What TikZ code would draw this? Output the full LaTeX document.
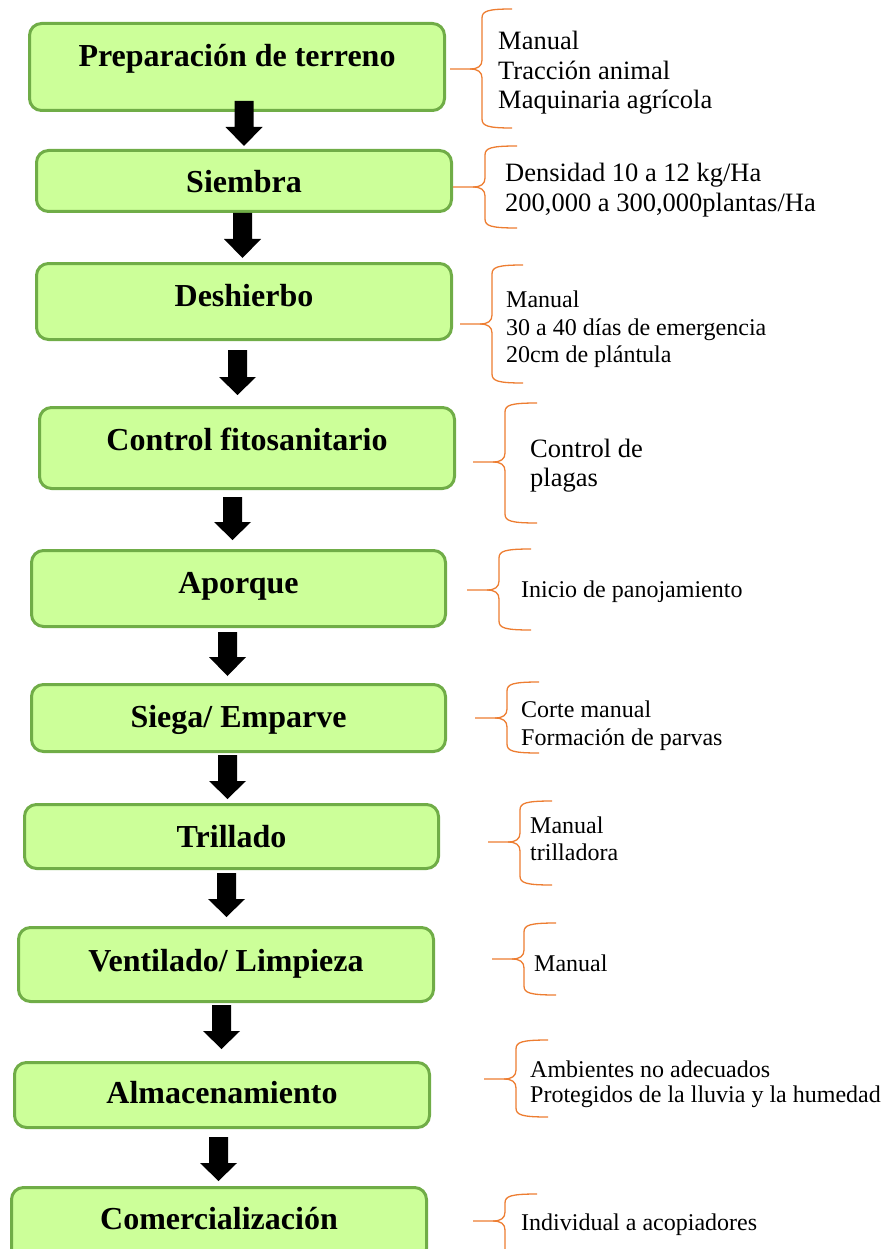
\documentclass[tikz,border=0pt]{standalone}
\usepackage{fontspec}
\setmainfont{Liberation Serif}
\definecolor{boxfill}{HTML}{CCFF99}
\definecolor{boxline}{HTML}{70AD47}
\definecolor{braceor}{HTML}{ED7D31}
\tikzset{
  stepbox/.style={draw=boxline, fill=boxfill, line width=3pt, rounded corners=12pt, inner sep=0pt},
  steptext/.style={anchor=base, inner sep=0pt, font=\fontsize{32}{38}\selectfont\bfseries},
  notebig/.style={anchor=base west, inner sep=0pt, font=\fontsize{26.5}{30}\selectfont},
  notesmall/.style={anchor=base west, inner sep=0pt, font=\fontsize{24}{28}\selectfont},
  bracestyle/.style={draw=braceor, line width=1.3pt},
  flowarrow/.style={fill=black},
}
% block arrow: name, center x, top y, head start y, tip y
\newcommand\flowarr[5]{%
  \fill[flowarrow] ({#2-9.5},#3) -- ({#2+9.5},#3) -- ({#2+9.5},#4) -- ({#2+18.5},#4)
    -- (#2,#5) -- ({#2-18.5},#4) -- ({#2-9.5},#4) -- cycle;
  \coordinate (#1) at (#2,#5);}
% side brace: tip x, tip y, vertical x, end x, top y, bottom y
\newcommand\sidebrace[6]{%
  \draw[bracestyle] (#1,#2) -- ({#3-12},#2) .. controls ({#3-4},#2) and (#3,{#2-3}) .. (#3,{#2-9})
    -- (#3,{#5+9}) .. controls (#3,{#5+2}) and ({#3+6},#5) .. (#4,#5);
  \draw[bracestyle] ({#3-12},#2) .. controls ({#3-4},#2) and (#3,{#2+3}) .. (#3,{#2+9})
    -- (#3,{#6-9}) .. controls (#3,{#6-2}) and ({#3+6},#6) .. (#4,#6);}
\begin{document}
\begin{tikzpicture}[x=1pt,y=-1pt]
\useasboundingbox (0,0) rectangle (881,1249);
\clip (0,0) rectangle (881,1249);

% boxes
\node[stepbox, minimum width=415pt, minimum height=87pt] (b1) at (237,67) {};
\node[stepbox, minimum width=415pt, minimum height=61pt] (b2) at (244,181) {};
\node[stepbox, minimum width=415pt, minimum height=76pt] (b3) at (244,301.5) {};
\node[stepbox, minimum width=415pt, minimum height=81pt] (b4) at (247,448) {};
\node[stepbox, minimum width=414pt, minimum height=76pt] (b5) at (238.5,588.5) {};
\node[stepbox, minimum width=414pt, minimum height=67pt] (b6) at (238.5,718) {};
\node[stepbox, minimum width=414pt, minimum height=64pt] (b7) at (231.5,836.5) {};
\node[stepbox, minimum width=415pt, minimum height=74pt] (b8) at (226,964.5) {};
\node[stepbox, minimum width=415pt, minimum height=65pt] (b9) at (222,1095) {};
\node[stepbox, minimum width=415pt, minimum height=73pt] (b10) at (219,1224) {};

% box texts
\node[steptext] (t1) at (237,67) {Preparación de terreno};
\node[steptext] (t2) at (244,193) {Siembra};
\node[steptext] (t3) at (244,306) {Deshierbo};
\node[steptext] (t4) at (247,450) {Control fitosanitario};
\node[steptext] (t5) at (238.5,593) {Aporque};
\node[steptext] (t6) at (238.5,727) {Siega/ Emparve};
\node[steptext] (t7) at (231.5,847) {Trillado};
\node[steptext] (t8) at (226,971) {Ventilado/ Limpieza};
\node[steptext] (t9) at (222,1103) {Almacenamiento};
\node[steptext] (t10) at (219,1229) {Comercialización};

% arrows
\flowarr{a1}{244}{101}{127}{146}
\flowarr{a2}{242.5}{213}{239}{258}
\flowarr{a3}{237.5}{350}{377}{395}
\flowarr{a4}{232.5}{497}{522}{540}
\flowarr{a5}{227.5}{632}{657}{676}
\flowarr{a6}{227.5}{755}{781}{799}
\flowarr{a7}{226.5}{873}{899}{917}
\flowarr{a8}{221.5}{1005}{1031}{1049}
\flowarr{a9}{218.5}{1137}{1163}{1181}

% braces
\sidebrace{450}{69}{482}{512}{9}{128}
\sidebrace{453}{187}{485}{517}{146}{228}
\sidebrace{460}{324}{492}{523}{265}{383}
\sidebrace{473}{462}{505}{537}{403}{523}
\sidebrace{467}{590}{499}{531}{549}{630}
\sidebrace{475}{718}{507}{539}{682}{753}
\sidebrace{488}{842}{520}{552}{801}{885}
\sidebrace{492}{959}{524}{556}{923}{995}
\sidebrace{484}{1079}{516}{548}{1040}{1117}
\sidebrace{473}{1221}{505}{537}{1194}{1262}

% side notes
\node[notebig] (n1a) at (498,50) {Manual};
\node[notebig] (n1b) at (498,80) {Tracción animal};
\node[notebig] (n1c) at (498,109) {Maquinaria agrícola};
\node[notebig] (n2a) at (505,182) {Densidad 10 a 12 kg/Ha};
\node[notebig] (n2b) at (505,212) {200,000 a 300,000plantas/Ha};
\node[notesmall] (n3a) at (506,307) {Manual};
\node[notesmall] (n3b) at (506,335) {30 a 40 días de emergencia};
\node[notesmall] (n3c) at (506,362) {20cm de plántula};
\node[notebig] (n4a) at (530,457) {Control de};
\node[notebig] (n4b) at (530,486) {plagas};
\node[notesmall] (n5) at (521,597) {Inicio de panojamiento};
\node[notesmall] (n6a) at (521,717) {Corte manual};
\node[notesmall] (n6b) at (521,745) {Formación de parvas};
\node[notesmall] (n7a) at (530,833) {Manual};
\node[notesmall] (n7b) at (530,860) {trilladora};
\node[notesmall] (n8) at (534,971) {Manual};
\node[notesmall] (n9a) at (530,1077) {Ambientes no adecuados};
\node[notesmall] (n9b) at (530,1102) {Protegidos de la lluvia y la humedad};
\node[notesmall] (n10) at (521,1230) {Individual a acopiadores};
\end{tikzpicture}
\end{document}
